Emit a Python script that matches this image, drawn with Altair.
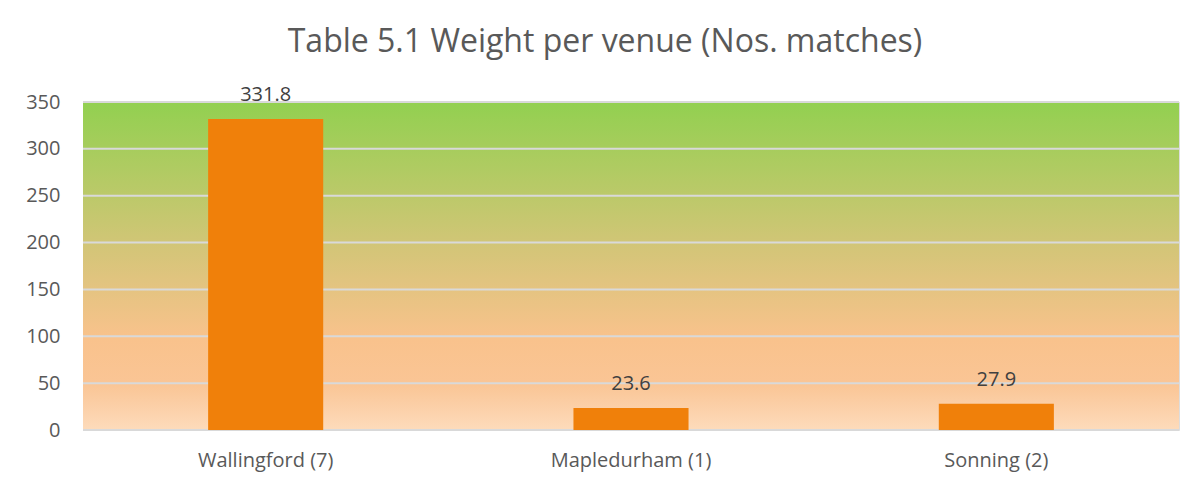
import altair as alt
import pandas as pd

# ---- data ----
venues = ["Wallingford (7)", "Mapledurham (1)", "Sonning (2)"]
weights = [331.8, 23.6, 27.9]
y_ticks = [0, 50, 100, 150, 200, 250, 300, 350]
title_text = "Table 5.1 Weight per venue (Nos. matches)"

df = pd.DataFrame({"venue": venues, "weight": weights})
grid_df = pd.DataFrame({"tick": y_ticks})
bg_df = pd.DataFrame({"top": [max(y_ticks)], "bottom": [min(y_ticks)]})

FONT = "Open Sans"
TXT = "#595959"

yscale = alt.Scale(domain=[0, 350], nice=False)
y_axis = alt.Axis(
    title=None, values=y_ticks, domain=False, ticks=False, grid=False,
    labelFont=FONT, labelFontSize=20, labelColor=TXT, labelPadding=23,
)
x_axis = alt.Axis(
    title=None, labelAngle=0, domain=False, ticks=False,
    labelFont=FONT, labelFontSize=20, labelColor=TXT, labelPadding=20,
)
xscale = alt.Scale(paddingInner=0.685, paddingOuter=0.3425)

gradient = alt.Gradient(
    gradient="linear",
    stops=[
        alt.GradientStop(color="#92D050", offset=0),
        alt.GradientStop(color="#D4C578", offset=0.45),
        alt.GradientStop(color="#F9C28C", offset=0.72),
        alt.GradientStop(color="#FAC595", offset=0.86),
        alt.GradientStop(color="#FDDBBB", offset=1),
    ],
    x1=0, x2=0, y1=0, y2=1,
)

background = alt.Chart(bg_df).mark_rect(fill=gradient).encode(
    x=alt.value(0),
    x2=alt.value("width"),
    y=alt.Y("top:Q", scale=yscale, axis=y_axis),
    y2="bottom:Q",
)

grid = alt.Chart(grid_df).mark_rule(color="#D9D9D9", strokeWidth=2).encode(
    x=alt.value(0),
    x2=alt.value("width"),
    y=alt.Y("tick:Q", scale=yscale, axis=y_axis),
)

bars = alt.Chart(df).mark_bar(color="#F0800A").encode(
    x=alt.X("venue:N", sort=None, scale=xscale, axis=x_axis),
    y=alt.Y("weight:Q", scale=yscale, axis=y_axis),
)

labels = alt.Chart(df).mark_text(
    font=FONT, fontSize=20, color="#404040", baseline="alphabetic", dy=-18
).encode(
    x=alt.X("venue:N", sort=None, scale=xscale, axis=x_axis),
    y=alt.Y("weight:Q", scale=yscale, axis=y_axis),
    text=alt.Text("weight:Q", format=".1f"),
)

chart = alt.layer(background, grid, bars, labels).properties(
    width=1096,
    height=328,
    padding={"left": 75, "top": 94, "right": 15, "bottom": 51},
    autosize=alt.AutoSizeParams(type="none"),
    title=alt.TitleParams(
        text=title_text, font=FONT, fontSize=32, fontWeight="normal",
        color=TXT, anchor="middle", dx=-26, offset=26,
    ),
).configure_view(stroke=None).configure(background="white")

chart.save("out.html", embed_options={"renderer": "svg", "actions": False})
